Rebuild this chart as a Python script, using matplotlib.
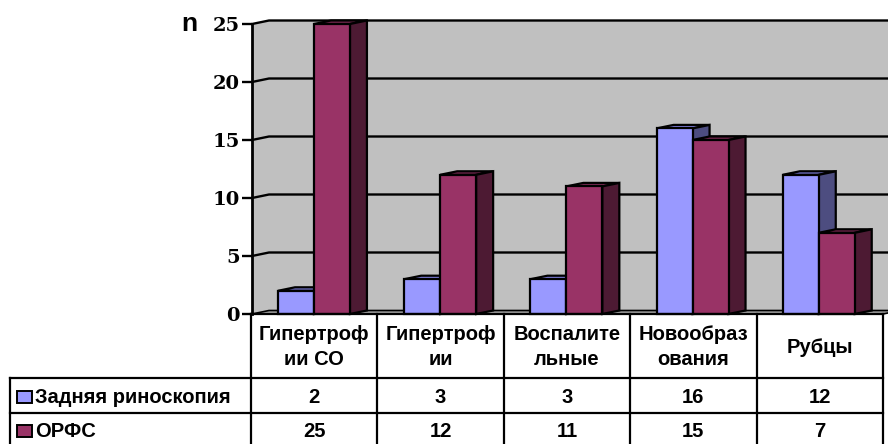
import matplotlib
matplotlib.use("Agg")
import matplotlib.pyplot as plt
from matplotlib.patches import Polygon, Rectangle

# Данные
categories = ["Гипертроф\nии СО", "Гипертроф\nии", "Воспалите\nльные", "Новообраз\nования", "Рубцы"]
series_names = ["Задняя риноскопия", "ОРФС"]
rhinoscopy = [2, 3, 3, 16, 12]
orfs = [25, 12, 11, 15, 7]
yticks = [0, 5, 10, 15, 20, 25]

W, H = 888, 444
fig = plt.figure(figsize=(W / 100, H / 100), dpi=100)

def box(x0, y0, x1, y1):
    # пиксели -> доли фигуры (y сверху вниз)
    return [x0 / W, 1 - y1 / H, (x1 - x0) / W, (y1 - y0) / H]

# область построения (передняя плоскость)
px_left, px_right, px_top, px_bottom = 252, 883, 24, 314
ax = fig.add_axes(box(px_left, px_top, px_right, px_bottom))
n = len(categories)
ax.set_xlim(0, n)
ax.set_ylim(0, 25)
ax.patch.set_visible(False)

cat_px = (px_right - px_left) / n
val_px = (px_bottom - px_top) / 25
DX = 17 / cat_px
DY = 3.5 / val_px

wall = "#C0C0C0"
# стенки и пол
ax.add_patch(Polygon([(DX, DY), (n + DX, DY), (n + DX, 25 + DY), (DX, 25 + DY)],
                     closed=True, facecolor=wall, edgecolor="none", clip_on=False, zorder=0))
ax.add_patch(Polygon([(0, 0), (DX, DY), (DX, 25 + DY), (0, 25)],
                     closed=True, facecolor=wall, edgecolor="none", clip_on=False, zorder=0))
ax.add_patch(Polygon([(0, 0), (n, 0), (n + DX, DY), (DX, DY)],
                     closed=True, facecolor="#A0A0A0", edgecolor="black", lw=1.2, clip_on=False, zorder=1))
for v in yticks[1:]:
    ax.plot([0, DX, n + DX], [v, v + DY, v + DY], color="black", lw=1.7,
            clip_on=False, zorder=1, solid_joinstyle="miter")

# столбцы
bw = 0.285
offs = [0.206, 0.491]
faces = [("#9999FF", "#7B7BD6", "#4D4D80"), ("#993366", "#7A2952", "#4D1A33")]
for s, vals in enumerate([rhinoscopy, orfs]):
    front, top, side = faces[s]
    xs = [i + offs[s] for i in range(n)]
    z = 3 + s
    ax.bar(xs, vals, width=bw, align="edge", color=front, edgecolor="black",
           linewidth=1.6, zorder=z + 0.5, clip_on=False)
    for x, v in zip(xs, vals):
        ax.add_patch(Polygon([(x, v), (x + bw, v), (x + bw + DX, v + DY), (x + DX, v + DY)],
                             closed=True, facecolor=top, edgecolor="black", lw=1.6,
                             clip_on=False, zorder=z, joinstyle="miter"))
        ax.add_patch(Polygon([(x + bw, 0), (x + bw + DX, DY), (x + bw + DX, v + DY), (x + bw, v)],
                             closed=True, facecolor=side, edgecolor="black", lw=1.6,
                             clip_on=False, zorder=z, joinstyle="miter"))

for sp in ["top", "right", "bottom"]:
    ax.spines[sp].set_visible(False)
ax.spines["left"].set_linewidth(2)
ax.spines["left"].set_zorder(6)
ax.set_xticks([])
ax.set_yticks(yticks)
ax.set_yticklabels([str(t) for t in yticks], family="DejaVu Serif", fontweight="bold", fontsize=14)
ax.tick_params(axis="y", direction="out", length=7, width=1.7, pad=2)

fig.text(189 / W, 1 - 24 / H, "n", family="Liberation Sans", fontweight="bold",
         fontsize=19, ha="center", va="center")

# таблица данных
tab = fig.add_axes([0, 0, 1, 1])
tab.set_xlim(0, W)
tab.set_ylim(H, 0)
tab.axis("off")
tab.patch.set_visible(False)

col0, col1 = 10, 251
cols = [col1 + i * (px_right - col1) / n for i in range(n + 1)]
r0, r1, r2, r3 = 314, 378, 413, 448
lk = dict(color="black", lw=1.6, solid_capstyle="projecting")
tab.plot([col1, px_right], [r0, r0], **lk)
for y in (r1, r2):
    tab.plot([col0, px_right], [y, y], **lk)
tab.plot([col0, col0], [r1, r3], **lk)
for x in cols:
    tab.plot([x, x], [r0, r3], **lk)

fs = 14.5
fk = dict(family="Liberation Sans", fontweight="bold", fontsize=fs, ha="center", va="center")
for i, c in enumerate(categories):
    tab.text((cols[i] + cols[i + 1]) / 2, (r0 + r1) / 2 + 1, c, linespacing=1.4, **fk)
for j, (name, vals) in enumerate(zip(series_names, [rhinoscopy, orfs])):
    yc = 397 if j == 0 else 431
    tab.add_patch(Rectangle((17, yc - 6), 15, 12, facecolor=faces[j][0], edgecolor="black", lw=1.4))
    tab.text(35, yc, name, family="Liberation Sans", fontweight="bold", fontsize=fs,
             ha="left", va="center")
    for i, v in enumerate(vals):
        tab.text((cols[i] + cols[i + 1]) / 2, yc, str(v), **fk)

fig.savefig("out.png", dpi=100)
